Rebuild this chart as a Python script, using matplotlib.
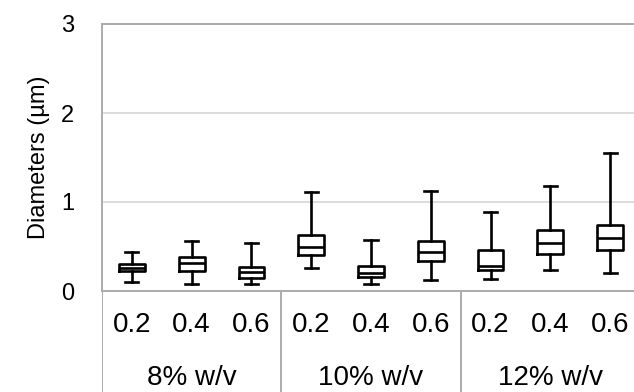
import matplotlib
matplotlib.use("Agg")
import matplotlib.pyplot as plt

plt.rcParams['font.family'] = ['Liberation Sans', 'DejaVu Sans']

# concentration groups and flow rates
groups = ['8% w/v', '10% w/v', '12% w/v']
rates = ['0.2', '0.4', '0.6']

# box statistics per box, in µm
whislo = [0.10, 0.08, 0.075, 0.255, 0.08, 0.12, 0.14, 0.24, 0.20]
q1 = [0.22, 0.23, 0.15, 0.40, 0.155, 0.34, 0.235, 0.42, 0.46]
med = [0.26, 0.31, 0.21, 0.49, 0.205, 0.44, 0.285, 0.535, 0.60]
q3 = [0.30, 0.38, 0.27, 0.63, 0.28, 0.56, 0.46, 0.685, 0.74]
whishi = [0.44, 0.565, 0.535, 1.11, 0.57, 1.12, 0.89, 1.18, 1.55]

stats = []
for i in range(len(med)):
    stats.append(dict(whislo=whislo[i], q1=q1[i], med=med[i], q3=q3[i],
                      whishi=whishi[i], fliers=[]))

grid_col = '#d9d9d9'
frame_col = '#ababab'

fig = plt.figure(figsize=(6.34, 3.92), dpi=100)
ax = fig.add_axes([102 / 634, 101 / 392, 538 / 634, 267 / 392])

n = len(stats)
pos = list(range(1, n + 1))
lp = dict(color='black', linewidth=1.9)
ax.bxp(stats, positions=pos, widths=0.43, capwidths=0.22, showfliers=False,
       boxprops=lp, medianprops=lp, whiskerprops=lp, capprops=lp)

ax.set_xlim(0.5, n + 0.5)
ax.set_ylim(0, 3)
ax.set_yticks([0, 1, 2, 3])
ax.set_xticks([])
ax.tick_params(axis='y', length=0, pad=20, labelsize=17)
ax.yaxis.grid(True, color=grid_col, linewidth=1.3)
ax.set_axisbelow(True)
for s in ['left', 'top', 'bottom']:
    ax.spines[s].set_color(frame_col)
    ax.spines[s].set_linewidth(1.4)
ax.spines['right'].set_visible(False)
ax.set_ylabel('Diameters (µm)', fontsize=17, labelpad=8)

# category table below the plot
tab = fig.add_axes([102 / 634, 0, 538 / 634, 101 / 392])
tab.set_xlim(0.5, n + 0.5)
tab.set_ylim(0, 1)
tab.axis('off')
for g in range(len(groups) + 1):
    tab.axvline(0.5 + 3 * g, color=frame_col, linewidth=1.4)
for i, p in enumerate(pos):
    tab.text(p, 0.66, rates[i % 3], ha='center', va='center', fontsize=20)
for g, name in enumerate(groups):
    tab.text(2 + 3 * g, 0.14, name, ha='center', va='center', fontsize=20)

fig.savefig('out.png', dpi=100)
